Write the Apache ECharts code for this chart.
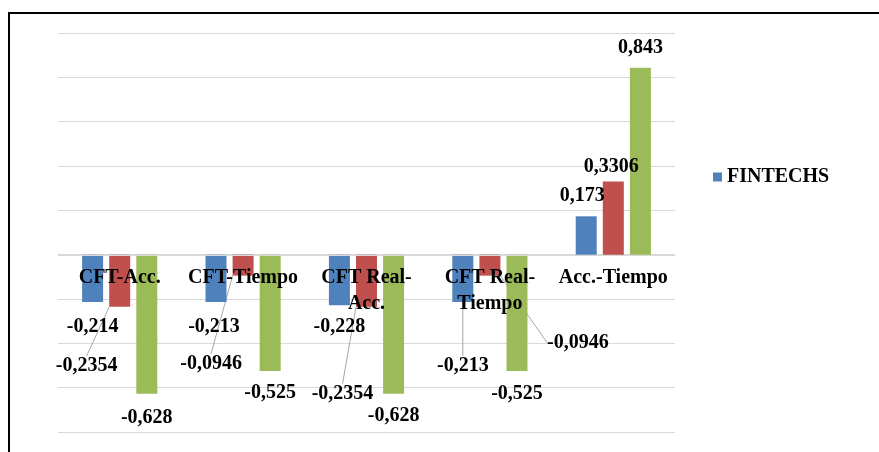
<!DOCTYPE html>
<html>
<head>
<meta charset="utf-8">
<script src="https://cdn.jsdelivr.net/npm/echarts@6/dist/echarts.min.js"></script>
<style>
  html, body { margin: 0; padding: 0; background: #fff; }
  #chart { width: 879px; height: 452px; }
</style>
</head>
<body>
<div id="chart"></div>
<script>
var categories = ['CFT-Acc.', 'CFT-Tiempo', 'CFT Real-\nAcc.', 'CFT Real-\nTiempo', 'Acc.-Tiempo'];
var fintechs = [-0.214, -0.213, -0.228, -0.213, 0.173];
var serie2 = [-0.2354, -0.0946, -0.2354, -0.0946, 0.3306];
var serie3 = [-0.628, -0.525, -0.628, -0.525, 0.843];

// label shifts (dx, dy) from the default outside position, and which ones get a leader line
var shifts = [
    [[0, 10], [-2, 10], [0, 7], [0, 49], [-4, -5]],
    [[-33, 44], [-32, 73], [-24, 72], [88, 52], [-2, 0]],
    [[0, 9], [0, 7], [0, 7], [0, 8], [0, -5]]
];
var leaders = [
    [false, false, false, true, false],
    [true, true, true, true, false],
    [false, false, false, false, false]
];

var font = 'Liberation Serif, Times New Roman, serif';
var colors = ['#4F81BD', '#C0504D', '#9BBB59'];

function makeSeries(name, values, idx) {
    return {
        name: name,
        type: 'bar',
        barWidth: 21,
        barGap: '29%',
        itemStyle: { color: colors[idx] },
        data: values.map(function (v, i) {
            return { value: v, labelLine: { show: leaders[idx][i] } };
        }),
        label: {
            show: true,
            position: 'outside',
            distance: 5,
            fontFamily: font,
            fontWeight: 'bold',
            fontSize: 20,
            color: '#000',
            formatter: function (p) { return String(p.value).replace('.', ','); }
        },
        labelLine: { show: false, lineStyle: { color: '#A6A6A6', width: 1 } },
        labelLayout: function (p) {
            var s = shifts[idx][p.dataIndex];
            return { dx: s[0], dy: s[1] };
        }
    };
}

var chart = echarts.init(document.getElementById('chart'));
chart.setOption({
    animation: false,
    grid: { left: 58, right: 204, top: 33, bottom: 20, containLabel: false, outerBoundsMode: 'none' },
    legend: {
        data: ['FINTECHS'],
        left: 713,
        top: 167,
        padding: 0,
        itemWidth: 9,
        itemHeight: 9,
        icon: 'rect',
        textStyle: { fontFamily: font, fontWeight: 'bold', fontSize: 20, color: '#000' }
    },
    xAxis: {
        type: 'category',
        data: categories,
        z: 5,
        // sits on the zero line: 0.8 of 1.8 units above the bottom of a 399px grid
        offset: -177,
        axisLine: { onZero: false, lineStyle: { color: '#D9D9D9', width: 1 } },
        axisTick: { show: false },
        axisLabel: {
            margin: 10,
            interval: 0,
            fontFamily: font,
            fontWeight: 'bold',
            fontSize: 20,
            lineHeight: 26,
            color: '#000'
        }
    },
    yAxis: {
        type: 'value',
        min: -0.8,
        max: 1,
        interval: 0.2,
        axisLabel: { show: false },
        axisLine: { show: false },
        axisTick: { show: false },
        splitLine: { lineStyle: { color: '#D9D9D9', width: 1 } }
    },
    graphic: [{
        type: 'rect',
        shape: { x: 9, y: 13, width: 880, height: 460 },
        style: { fill: null, stroke: '#000', lineWidth: 2 },
        silent: true
    }],
    series: [
        makeSeries('FINTECHS', fintechs, 0),
        makeSeries('Serie 2', serie2, 1),
        makeSeries('Serie 3', serie3, 2)
    ]
});
</script>
</body>
</html>
